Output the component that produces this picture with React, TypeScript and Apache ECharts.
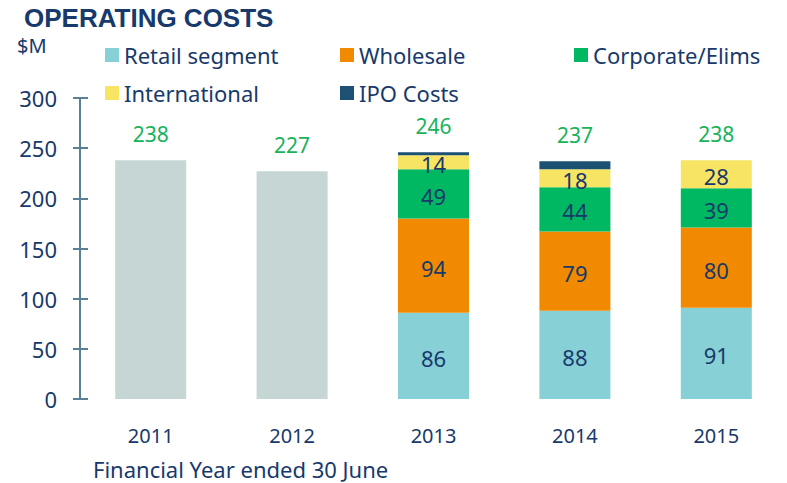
import React, { useEffect, useRef } from "react";
import * as echarts from "echarts";

const categories = ["2011", "2012", "2013", "2014", "2015"];
const preSegmentTotal = [238, 227, 0, 0, 0];
const retail = [0, 0, 86, 88, 91];
const wholesale = [0, 0, 94, 79, 80];
const corporate = [0, 0, 49, 44, 39];
const international = [0, 0, 14, 18, 28];
const ipoCosts = [0, 0, 3, 8, 0];
const totals = [238, 227, 246, 237, 238];
const yTicks = { min: 0, max: 300, interval: 50 };

const NAVY = "#17396b";
const AXIS = "#5b7f97";
const GREEN = "#16b35a";
const FONT = "'Noto Sans', sans-serif";

export default function App() {
  const ref = useRef<HTMLDivElement>(null);
  useEffect(() => {
    if (!ref.current) return;
    const chart = echarts.init(ref.current, null, { renderer: "svg" });
    const segLabel = {
      show: true,
      position: "inside" as const,
      color: NAVY,
      fontSize: 22,
      fontFamily: FONT,
      offset: [0, 2],
      formatter: (p: any) => (p.value ? String(p.value) : ""),
    };
    const mk = (name: string, data: number[], color: string, label: any) => ({
      name,
      type: "bar",
      stack: "a",
      data,
      barWidth: 71,
      itemStyle: { color },
      label,
    });
    const legendBase = {
      orient: "vertical",
      icon: "rect",
      itemWidth: 14,
      itemHeight: 14,
      itemGap: 16,
      padding: 0,
      textStyle: { color: NAVY, fontSize: 22, lineHeight: 22, fontFamily: FONT },
      selectedMode: false,
    };
    chart.setOption({
      animation: false,
      textStyle: { fontFamily: FONT },
      graphic: [
        {
          type: "text",
          left: 24,
          top: 5,
          style: {
            text: "OPERATING COSTS",
            fill: NAVY,
            fontSize: 26,
            fontWeight: "bold",
            fontFamily: "'Liberation Sans', Arial, sans-serif",
          },
        },
        {
          type: "text",
          left: 17,
          top: 35,
          style: { text: "$M", fill: NAVY, fontSize: 20, fontFamily: FONT },
        },
        {
          type: "text",
          left: 93,
          top: 458,
          style: { text: "Financial Year ended 30 June", fill: NAVY, fontSize: 22, fontFamily: FONT },
        },
      ],
      legend: [
        { ...legendBase, left: 105, top: 44, data: ["Retail segment", "International"] },
        { ...legendBase, left: 340, top: 44, data: ["Wholesale", "IPO Costs"] },
        { ...legendBase, left: 574, top: 44, data: ["Corporate/Elims"] },
      ],
      grid: { left: 80, top: 98, width: 712, height: 301 },
      xAxis: {
        type: "category",
        data: categories,
        axisLine: { show: false },
        axisTick: { show: false },
        axisLabel: { color: NAVY, fontSize: 20, margin: 26, fontFamily: FONT },
      },
      yAxis: [
        {
          type: "value",
          position: "left",
          ...yTicks,
          splitLine: { show: false },
          axisLine: { show: true, lineStyle: { color: AXIS, width: 2 } },
          axisTick: { show: true, length: 7, lineStyle: { color: AXIS, width: 2 } },
          axisLabel: { color: NAVY, fontSize: 22, margin: 23, fontFamily: FONT, padding: [8, 0, 0, 0] },
        },
        {
          type: "value",
          position: "left",
          ...yTicks,
          splitLine: { show: false },
          axisLine: { show: false },
          axisTick: { show: true, inside: true, length: 8, lineStyle: { color: AXIS, width: 2 } },
          axisLabel: { show: false },
        },
      ],
      series: [
        mk("Total", preSegmentTotal, "#c5d6d5", { show: false }),
        mk("Retail segment", retail, "#86d0d6", segLabel),
        mk("Wholesale", wholesale, "#f28a00", segLabel),
        mk("Corporate/Elims", corporate, "#00b862", segLabel),
        mk("International", international, "#f7e463", segLabel),
        mk("IPO Costs", ipoCosts, "#1c5174", { show: false }),
        {
          name: "TotalLabel",
          type: "bar",
          stack: "a",
          data: totals.map(() => 0),
          barWidth: 71,
          itemStyle: { color: "transparent" },
          label: {
            show: true,
            position: "top",
            distance: 16,
            color: GREEN,
            fontSize: 21,
            fontFamily: FONT,
            formatter: (p: any) => String(totals[p.dataIndex]),
          },
        },
      ],
    });
    return () => chart.dispose();
  }, []);
  return (
    <div
      ref={ref}
      style={{ position: "absolute", left: 0, top: 0, width: 787, height: 483, background: "#fff" }}
    />
  );
}
